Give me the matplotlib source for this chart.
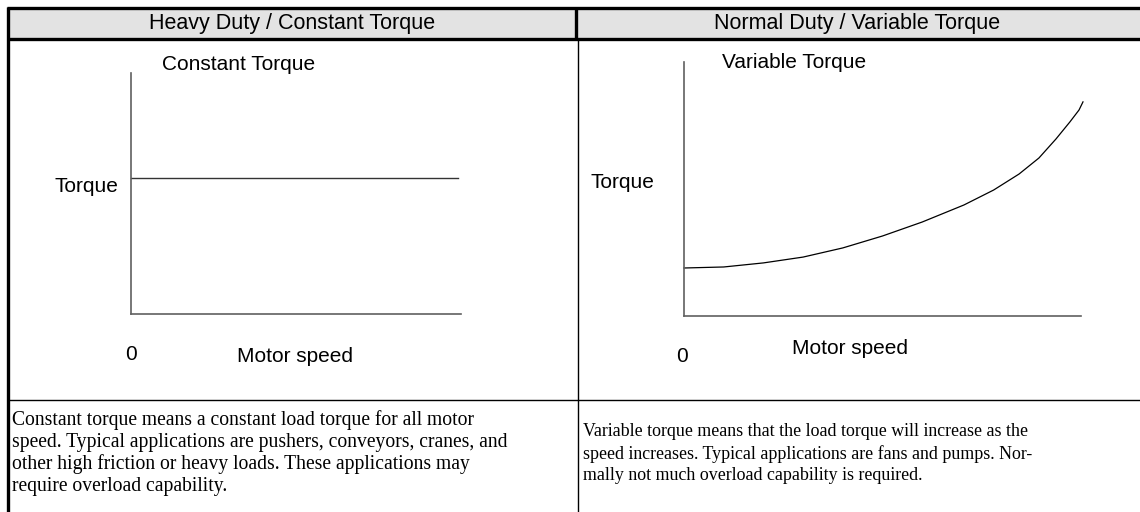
import matplotlib
matplotlib.use("Agg")
import matplotlib.pyplot as plt
from matplotlib.lines import Line2D
from matplotlib.patches import Rectangle

# ---- data -------------------------------------------------------------
headers = ["Heavy Duty / Constant Torque", "Normal Duty / Variable Torque"]
chart_titles = ["Constant Torque", "Variable Torque"]

# constant torque: same load torque at every speed (% of axis range)
ct_speed = [0, 99]
ct_torque = [56.4, 56.4]

# variable torque: load torque rising with speed (% of axis range)
vt_speed = [0, 10, 20, 30, 40, 50, 60, 70.5, 78, 84.4, 89.4, 93.7, 97.2, 99.5, 100.5]
vt_torque = [18.9, 19.3, 20.9, 23.2, 26.8, 31.5, 37, 43.7, 49.6, 55.9, 62.2,
             69.7, 76.4, 81.1, 84.3]

left_lines = [
    "Constant torque means a constant load torque for all motor",
    "speed. Typical applications are pushers, conveyors, cranes, and",
    "other high friction or heavy loads. These applications may",
    "require overload capability.",
]
right_lines = [
    "Variable torque means that the load torque will increase as the",
    "speed increases. Typical applications are fans and pumps. Nor-",
    "mally not much overload capability is required.",
]

# ---- figure -----------------------------------------------------------
W, H = 1140, 512
fig = plt.figure(figsize=(W / 100, H / 100), dpi=100)
fig.patch.set_facecolor("white")


def fx(px):
    return px / W


def fy(py):
    return 1 - py / H


def hline(y, x0, x1, lw):
    fig.add_artist(Line2D([fx(x0), fx(x1)], [fy(y), fy(y)], color="black",
                          lw=lw, solid_capstyle="butt",
                          transform=fig.transFigure))


def vline(x, y0, y1, lw):
    fig.add_artist(Line2D([fx(x), fx(x)], [fy(y0), fy(y1)], color="black",
                          lw=lw, solid_capstyle="butt",
                          transform=fig.transFigure))


# table frame
fig.add_artist(Rectangle((fx(8), fy(38.5)), fx(1140) - fx(8), fy(7.5) - fy(38.5),
                         facecolor="#e3e3e3", edgecolor="none",
                         transform=fig.transFigure))
hline(7.5, 6.5, 1140, 2.4)
hline(38.5, 6.5, 1140, 2.4)
vline(8, 6.5, 512, 2.4)
vline(576, 7.5, 38.5, 2.4)
vline(577.5, 38.5, 512, 1.0)
hline(399.5, 8, 1140, 1.0)

sans = ["Liberation Sans", "DejaVu Sans"]
serif = ["Liberation Serif", "DejaVu Serif"]

fig.text(fx(292), fy(23), headers[0], ha="center", va="center",
         fontsize=15.5, family=sans)
fig.text(fx(857), fy(23), headers[1], ha="center", va="center",
         fontsize=15.5, family=sans)

# ---- charts -----------------------------------------------------------
spine_col = "#606060"


def style_axes(ax):
    for s in ("top", "right"):
        ax.spines[s].set_visible(False)
    for s in ("left", "bottom"):
        ax.spines[s].set_color(spine_col)
        ax.spines[s].set_linewidth(1.2)
    ax.set_xticks([])
    ax.set_yticks([])
    ax.set_xlim(0, 100)
    ax.set_ylim(0, 100)
    ax.patch.set_visible(False)


ax1 = fig.add_axes([fx(131), fy(314), (461 - 131) / W, (314 - 73) / H])
style_axes(ax1)
ax1.plot(ct_speed, ct_torque, color="#333333", lw=1.0, clip_on=False)

ax2 = fig.add_axes([fx(684), fy(316), 397 / W, (316 - 62) / H])
style_axes(ax2)
ax2.plot(vt_speed, vt_torque, color="black", lw=0.9, clip_on=False,
         solid_joinstyle="round")

lab = 15
fig.text(fx(162), fy(64), chart_titles[0], ha="left", va="center",
         fontsize=lab, family=sans)
fig.text(fx(722), fy(62), chart_titles[1], ha="left", va="center",
         fontsize=lab, family=sans)
fig.text(fx(118), fy(186), "Torque", ha="right", va="center",
         fontsize=lab, family=sans)
fig.text(fx(654), fy(183), "Torque", ha="right", va="center",
         fontsize=lab, family=sans)
fig.text(fx(131), fy(354), "0", ha="center", va="center",
         fontsize=lab, family=sans)
fig.text(fx(682), fy(356), "0", ha="center", va="center",
         fontsize=lab, family=sans)
fig.text(fx(295), fy(356), "Motor speed", ha="center", va="center",
         fontsize=lab, family=sans)
fig.text(fx(850), fy(349), "Motor speed", ha="center", va="center",
         fontsize=lab, family=sans)

# ---- descriptions -----------------------------------------------------
for i, line in enumerate(left_lines):
    fig.text(fx(12), fy(420 + 22 * i), line, ha="left", va="center",
             fontsize=14.1, family=serif)
for i, line in enumerate(right_lines):
    fig.text(fx(583), fy(432 + 22 * i), line, ha="left", va="center",
             fontsize=12.9, family=serif)

fig.savefig("out.png", dpi=100)
